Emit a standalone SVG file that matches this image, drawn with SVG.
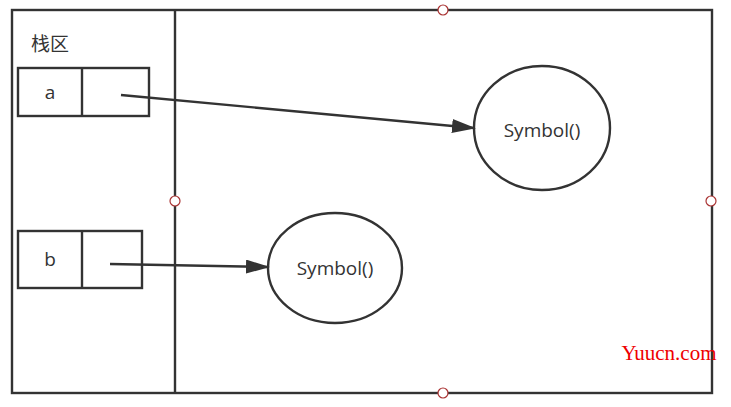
<svg xmlns="http://www.w3.org/2000/svg" width="731" height="407" viewBox="0 0 731 407">
<style>
.ln{fill:none;stroke:#333;stroke-width:2.4}
.nd{fill:#fff;stroke:#333;stroke-width:2.4}
.hd{fill:#fff;stroke:#a33;stroke-width:1.2}
.t{font-family:"Open Sans","Noto Sans CJK SC",sans-serif;font-size:19px;fill:#333;text-anchor:middle;dominant-baseline:central}
</style>
<defs>
<marker id="ah" markerWidth="24" markerHeight="14" refX="22" refY="7" orient="auto" markerUnits="userSpaceOnUse">
<path d="M0,0 L24,7 L0,14 Z" fill="#333"/>
</marker>
</defs>
<rect width="731" height="407" fill="#fff"/>
<g id="frame">
<rect x="12" y="10" width="700" height="383" class="ln"/>
<line x1="175" y1="10" x2="175" y2="393" class="ln"/>
<text x="50" y="44" class="t" font-size="17">栈区</text>
</g>
<g id="boxA">
<rect x="18" y="68" width="131" height="48" class="nd"/>
<line x1="82" y1="68" x2="82" y2="116" class="ln"/>
<text x="50" y="92" class="t">a</text>
</g>
<g id="boxB">
<rect x="18" y="231" width="124" height="57" class="nd"/>
<line x1="82" y1="231" x2="82" y2="288" class="ln"/>
<text x="50" y="259" class="t">b</text>
</g>
<g id="sym1">
<ellipse cx="542" cy="128" rx="68" ry="62" class="nd"/>
<text x="542" y="130" class="t">Symbol()</text>
</g>
<g id="sym2">
<ellipse cx="335" cy="268" rx="67" ry="55" class="nd"/>
<text x="335" y="268" class="t">Symbol()</text>
</g>
<g id="connectors">
<line x1="121" y1="95" x2="474" y2="128" class="ln" marker-end="url(#ah)"/>
<line x1="110" y1="264" x2="268" y2="267" class="ln" marker-end="url(#ah)"/>
</g>
<g id="handles">
<circle cx="443" cy="10" r="5" class="hd"/>
<circle cx="175" cy="201" r="5" class="hd"/>
<circle cx="711" cy="201" r="5" class="hd"/>
<circle cx="443" cy="393" r="5" class="hd"/>
</g>
<text x="669" y="353" font-family="Liberation Serif,serif" font-size="21" fill="#e00" text-anchor="middle" dominant-baseline="central">Yuucn.com</text>
</svg>
